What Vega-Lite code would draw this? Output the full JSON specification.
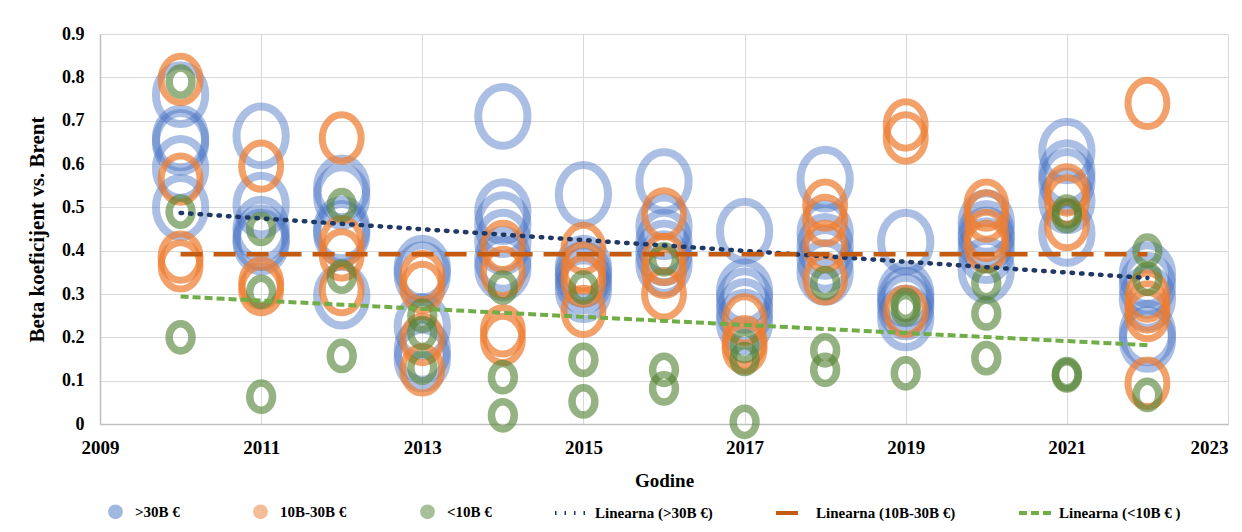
{
  "$schema": "https://vega.github.io/schema/vega-lite/v6.json",
  "width": 1128,
  "height": 390,
  "autosize": {"type": "none"},
  "padding": {"left": 100, "top": 34, "right": 14, "bottom": 108},
  "background": "white",
  "config": {
    "view": {"stroke": null},
    "font": "Liberation Serif",
    "axis": {
      "labelFont": "Liberation Serif",
      "titleFont": "Liberation Serif",
      "labelFontWeight": "bold",
      "titleFontWeight": "bold",
      "labelColor": "#000000",
      "titleColor": "#000000",
      "gridColor": "#D9D9D9",
      "gridWidth": 1,
      "domainColor": "#BFBFBF",
      "domainWidth": 1.5,
      "ticks": false,
      "labelOverlap": false
    },
    "legend": {
      "labelFont": "Liberation Serif",
      "labelFontSize": 15,
      "labelFontWeight": "bold",
      "labelColor": "#000000"
    }
  },
  "datasets": {
    "points": [
      {"year": 2010, "beta": 0.76, "series": ">30B €"},
      {"year": 2010, "beta": 0.66, "series": ">30B €"},
      {"year": 2010, "beta": 0.65, "series": ">30B €"},
      {"year": 2010, "beta": 0.59, "series": ">30B €"},
      {"year": 2010, "beta": 0.50, "series": ">30B €"},
      {"year": 2011, "beta": 0.665, "series": ">30B €"},
      {"year": 2011, "beta": 0.505, "series": ">30B €"},
      {"year": 2011, "beta": 0.45, "series": ">30B €"},
      {"year": 2011, "beta": 0.43, "series": ">30B €"},
      {"year": 2011, "beta": 0.42, "series": ">30B €"},
      {"year": 2012, "beta": 0.545, "series": ">30B €"},
      {"year": 2012, "beta": 0.525, "series": ">30B €"},
      {"year": 2012, "beta": 0.45, "series": ">30B €"},
      {"year": 2012, "beta": 0.44, "series": ">30B €"},
      {"year": 2012, "beta": 0.295, "series": ">30B €"},
      {"year": 2013, "beta": 0.36, "series": ">30B €"},
      {"year": 2013, "beta": 0.345, "series": ">30B €"},
      {"year": 2013, "beta": 0.225, "series": ">30B €"},
      {"year": 2013, "beta": 0.17, "series": ">30B €"},
      {"year": 2013, "beta": 0.15, "series": ">30B €"},
      {"year": 2014, "beta": 0.71, "series": ">30B €"},
      {"year": 2014, "beta": 0.49, "series": ">30B €"},
      {"year": 2014, "beta": 0.46, "series": ">30B €"},
      {"year": 2014, "beta": 0.42, "series": ">30B €"},
      {"year": 2014, "beta": 0.38, "series": ">30B €"},
      {"year": 2014, "beta": 0.36, "series": ">30B €"},
      {"year": 2015, "beta": 0.53, "series": ">30B €"},
      {"year": 2015, "beta": 0.36, "series": ">30B €"},
      {"year": 2015, "beta": 0.345, "series": ">30B €"},
      {"year": 2015, "beta": 0.33, "series": ">30B €"},
      {"year": 2015, "beta": 0.31, "series": ">30B €"},
      {"year": 2016, "beta": 0.56, "series": ">30B €"},
      {"year": 2016, "beta": 0.455, "series": ">30B €"},
      {"year": 2016, "beta": 0.42, "series": ">30B €"},
      {"year": 2016, "beta": 0.395, "series": ">30B €"},
      {"year": 2016, "beta": 0.37, "series": ">30B €"},
      {"year": 2017, "beta": 0.445, "series": ">30B €"},
      {"year": 2017, "beta": 0.305, "series": ">30B €"},
      {"year": 2017, "beta": 0.285, "series": ">30B €"},
      {"year": 2017, "beta": 0.26, "series": ">30B €"},
      {"year": 2017, "beta": 0.235, "series": ">30B €"},
      {"year": 2018, "beta": 0.565, "series": ">30B €"},
      {"year": 2018, "beta": 0.44, "series": ">30B €"},
      {"year": 2018, "beta": 0.41, "series": ">30B €"},
      {"year": 2018, "beta": 0.38, "series": ">30B €"},
      {"year": 2018, "beta": 0.35, "series": ">30B €"},
      {"year": 2019, "beta": 0.42, "series": ">30B €"},
      {"year": 2019, "beta": 0.30, "series": ">30B €"},
      {"year": 2019, "beta": 0.285, "series": ">30B €"},
      {"year": 2019, "beta": 0.27, "series": ">30B €"},
      {"year": 2019, "beta": 0.245, "series": ">30B €"},
      {"year": 2020, "beta": 0.465, "series": ">30B €"},
      {"year": 2020, "beta": 0.44, "series": ">30B €"},
      {"year": 2020, "beta": 0.425, "series": ">30B €"},
      {"year": 2020, "beta": 0.40, "series": ">30B €"},
      {"year": 2020, "beta": 0.355, "series": ">30B €"},
      {"year": 2021, "beta": 0.63, "series": ">30B €"},
      {"year": 2021, "beta": 0.58, "series": ">30B €"},
      {"year": 2021, "beta": 0.56, "series": ">30B €"},
      {"year": 2021, "beta": 0.515, "series": ">30B €"},
      {"year": 2021, "beta": 0.44, "series": ">30B €"},
      {"year": 2022, "beta": 0.345, "series": ">30B €"},
      {"year": 2022, "beta": 0.32, "series": ">30B €"},
      {"year": 2022, "beta": 0.29, "series": ">30B €"},
      {"year": 2022, "beta": 0.21, "series": ">30B €"},
      {"year": 2022, "beta": 0.195, "series": ">30B €"},
      {"year": 2010, "beta": 0.795, "series": "10B-30B €"},
      {"year": 2010, "beta": 0.565, "series": "10B-30B €"},
      {"year": 2010, "beta": 0.385, "series": "10B-30B €"},
      {"year": 2010, "beta": 0.365, "series": "10B-30B €"},
      {"year": 2011, "beta": 0.595, "series": "10B-30B €"},
      {"year": 2011, "beta": 0.325, "series": "10B-30B €"},
      {"year": 2011, "beta": 0.31, "series": "10B-30B €"},
      {"year": 2012, "beta": 0.66, "series": "10B-30B €"},
      {"year": 2012, "beta": 0.42, "series": "10B-30B €"},
      {"year": 2012, "beta": 0.39, "series": "10B-30B €"},
      {"year": 2012, "beta": 0.31, "series": "10B-30B €"},
      {"year": 2013, "beta": 0.34, "series": "10B-30B €"},
      {"year": 2013, "beta": 0.315, "series": "10B-30B €"},
      {"year": 2013, "beta": 0.195, "series": "10B-30B €"},
      {"year": 2013, "beta": 0.125, "series": "10B-30B €"},
      {"year": 2014, "beta": 0.41, "series": "10B-30B €"},
      {"year": 2014, "beta": 0.35, "series": "10B-30B €"},
      {"year": 2014, "beta": 0.215, "series": "10B-30B €"},
      {"year": 2014, "beta": 0.195, "series": "10B-30B €"},
      {"year": 2015, "beta": 0.405, "series": "10B-30B €"},
      {"year": 2015, "beta": 0.36, "series": "10B-30B €"},
      {"year": 2015, "beta": 0.33, "series": "10B-30B €"},
      {"year": 2015, "beta": 0.26, "series": "10B-30B €"},
      {"year": 2016, "beta": 0.485, "series": "10B-30B €"},
      {"year": 2016, "beta": 0.38, "series": "10B-30B €"},
      {"year": 2016, "beta": 0.35, "series": "10B-30B €"},
      {"year": 2016, "beta": 0.30, "series": "10B-30B €"},
      {"year": 2017, "beta": 0.24, "series": "10B-30B €"},
      {"year": 2017, "beta": 0.19, "series": "10B-30B €"},
      {"year": 2017, "beta": 0.175, "series": "10B-30B €"},
      {"year": 2018, "beta": 0.505, "series": "10B-30B €"},
      {"year": 2018, "beta": 0.47, "series": "10B-30B €"},
      {"year": 2018, "beta": 0.41, "series": "10B-30B €"},
      {"year": 2018, "beta": 0.335, "series": "10B-30B €"},
      {"year": 2019, "beta": 0.69, "series": "10B-30B €"},
      {"year": 2019, "beta": 0.66, "series": "10B-30B €"},
      {"year": 2019, "beta": 0.26, "series": "10B-30B €"},
      {"year": 2020, "beta": 0.505, "series": "10B-30B €"},
      {"year": 2020, "beta": 0.48, "series": "10B-30B €"},
      {"year": 2020, "beta": 0.435, "series": "10B-30B €"},
      {"year": 2020, "beta": 0.41, "series": "10B-30B €"},
      {"year": 2021, "beta": 0.54, "series": "10B-30B €"},
      {"year": 2021, "beta": 0.515, "series": "10B-30B €"},
      {"year": 2021, "beta": 0.46, "series": "10B-30B €"},
      {"year": 2022, "beta": 0.74, "series": "10B-30B €"},
      {"year": 2022, "beta": 0.295, "series": "10B-30B €"},
      {"year": 2022, "beta": 0.27, "series": "10B-30B €"},
      {"year": 2022, "beta": 0.25, "series": "10B-30B €"},
      {"year": 2022, "beta": 0.094, "series": "10B-30B €"},
      {"year": 2010, "beta": 0.79, "series": "<10B €"},
      {"year": 2010, "beta": 0.49, "series": "<10B €"},
      {"year": 2010, "beta": 0.20, "series": "<10B €"},
      {"year": 2011, "beta": 0.45, "series": "<10B €"},
      {"year": 2011, "beta": 0.305, "series": "<10B €"},
      {"year": 2011, "beta": 0.063, "series": "<10B €"},
      {"year": 2012, "beta": 0.505, "series": "<10B €"},
      {"year": 2012, "beta": 0.34, "series": "<10B €"},
      {"year": 2012, "beta": 0.157, "series": "<10B €"},
      {"year": 2013, "beta": 0.25, "series": "<10B €"},
      {"year": 2013, "beta": 0.21, "series": "<10B €"},
      {"year": 2013, "beta": 0.13, "series": "<10B €"},
      {"year": 2014, "beta": 0.315, "series": "<10B €"},
      {"year": 2014, "beta": 0.108, "series": "<10B €"},
      {"year": 2014, "beta": 0.02, "series": "<10B €"},
      {"year": 2015, "beta": 0.315, "series": "<10B €"},
      {"year": 2015, "beta": 0.148, "series": "<10B €"},
      {"year": 2015, "beta": 0.052, "series": "<10B €"},
      {"year": 2016, "beta": 0.38, "series": "<10B €"},
      {"year": 2016, "beta": 0.125, "series": "<10B €"},
      {"year": 2016, "beta": 0.082, "series": "<10B €"},
      {"year": 2017, "beta": 0.18, "series": "<10B €"},
      {"year": 2017, "beta": 0.15, "series": "<10B €"},
      {"year": 2017, "beta": 0.005, "series": "<10B €"},
      {"year": 2018, "beta": 0.325, "series": "<10B €"},
      {"year": 2018, "beta": 0.17, "series": "<10B €"},
      {"year": 2018, "beta": 0.125, "series": "<10B €"},
      {"year": 2019, "beta": 0.275, "series": "<10B €"},
      {"year": 2019, "beta": 0.265, "series": "<10B €"},
      {"year": 2019, "beta": 0.117, "series": "<10B €"},
      {"year": 2020, "beta": 0.325, "series": "<10B €"},
      {"year": 2020, "beta": 0.255, "series": "<10B €"},
      {"year": 2020, "beta": 0.152, "series": "<10B €"},
      {"year": 2021, "beta": 0.49, "series": "<10B €"},
      {"year": 2021, "beta": 0.48, "series": "<10B €"},
      {"year": 2021, "beta": 0.115, "series": "<10B €"},
      {"year": 2021, "beta": 0.112, "series": "<10B €"},
      {"year": 2022, "beta": 0.40, "series": "<10B €"},
      {"year": 2022, "beta": 0.335, "series": "<10B €"},
      {"year": 2022, "beta": 0.067, "series": "<10B €"}
    ],
    "trends": [
      {"year": 2010, "beta": 0.487, "series": "Linearna (>30B €)"},
      {"year": 2022, "beta": 0.337, "series": "Linearna (>30B €)"},
      {"year": 2010, "beta": 0.392, "series": "Linearna (10B-30B €)"},
      {"year": 2022, "beta": 0.392, "series": "Linearna (10B-30B €)"},
      {"year": 2010, "beta": 0.294, "series": "Linearna (<10B € )"},
      {"year": 2022, "beta": 0.182, "series": "Linearna (<10B € )"}
    ]
  },
  "encoding": {
    "x": {
      "field": "year",
      "type": "quantitative",
      "scale": {"domain": [2009, 2023], "nice": false, "zero": false},
      "axis": {
        "title": "Godine",
        "values": [2009, 2011, 2013, 2015, 2017, 2019, 2021, 2023],
        "format": "d",
        "grid": true,
        "labelFlush": false,
        "labelAlign": {"condition": {"test": "datum.value === 2023", "value": "right"}, "value": "center"},
        "labelFontSize": 19,
        "labelPadding": 14,
        "titleFontSize": 19,
        "titlePadding": 14
      }
    },
    "y": {
      "field": "beta",
      "type": "quantitative",
      "scale": {"domain": [0, 0.9], "nice": false},
      "axis": {
        "title": "Beta koeficijent vs. Brent",
        "values": [0, 0.1, 0.2, 0.3, 0.4, 0.5, 0.6, 0.7, 0.8, 0.9],
        "format": ".1~f",
        "grid": true,
        "labelFontSize": 18,
        "labelPadding": 16,
        "titleFontSize": 21,
        "titlePadding": 14
      }
    }
  },
  "layer": [
    {
      "encoding": {
        "color": {
          "field": "series",
          "type": "nominal",
          "scale": {
            "domain": [">30B €", "10B-30B €", "<10B €"],
            "range": ["#4472C4", "#ED7D31", "#548235"]
          },
          "legend": {
            "title": null,
            "orient": "none",
            "direction": "horizontal",
            "legendX": 8,
            "legendY": 470,
            "symbolType": "circle",
            "symbolSize": 60,
            "symbolStrokeWidth": 7,
            "symbolOpacity": 0.5,
            "labelOffset": 12,
            "columnPadding": 62
          }
        }
      },
      "layer": [
        {
          "data": {"name": "points"},
          "transform": [{"filter": "datum.series === '>30B €'"}],
          "mark": {"type": "point", "shape": "M0,-1C0.464,-1 0.84,-0.552 0.84,0C0.84,0.552 0.464,1 0,1C-0.464,1 -0.84,0.552 -0.84,0C-0.84,-0.552 -0.464,-1 0,-1Z", "filled": false, "size": 3445, "strokeWidth": 8, "opacity": 1, "strokeOpacity": 0.45}
        },
        {
          "data": {"name": "points"},
          "transform": [{"filter": "datum.series === '10B-30B €'"}],
          "mark": {"type": "point", "shape": "M0,-1C0.464,-1 0.84,-0.552 0.84,0C0.84,0.552 0.464,1 0,1C-0.464,1 -0.84,0.552 -0.84,0C-0.84,-0.552 -0.464,-1 0,-1Z", "filled": false, "size": 2144, "strokeWidth": 7, "opacity": 1, "strokeOpacity": 0.72}
        },
        {
          "data": {"name": "points"},
          "transform": [{"filter": "datum.series === '<10B €'"}],
          "mark": {"type": "point", "shape": "M0,-1C0.464,-1 0.84,-0.552 0.84,0C0.84,0.552 0.464,1 0,1C-0.464,1 -0.84,0.552 -0.84,0C-0.84,-0.552 -0.464,-1 0,-1Z", "filled": false, "size": 740, "strokeWidth": 7.5, "opacity": 1, "strokeOpacity": 0.62}
        }
      ]
    },
    {
      "encoding": {
        "stroke": {
          "field": "series",
          "type": "nominal",
          "scale": {
            "domain": ["Linearna (>30B €)", "Linearna (10B-30B €)", "Linearna (<10B € )"],
            "range": ["#203864", "#C55A11", "#70AD47"]
          },
          "legend": {
            "title": null,
            "orient": "none",
            "direction": "horizontal",
            "legendX": 453,
            "legendY": 461,
            "symbolType": "stroke",
            "symbolSize": 1024,
            "symbolStrokeWidth": 4,
            "labelOffset": 6,
            "columnPadding": 55
          }
        },
        "strokeDash": {
          "field": "series",
          "type": "nominal",
          "scale": {
            "domain": ["Linearna (>30B €)", "Linearna (10B-30B €)", "Linearna (<10B € )"],
            "range": [[1.5, 8], [22, 11], [8, 4]]
          },
          "legend": {
            "title": null,
            "orient": "none",
            "direction": "horizontal",
            "legendX": 453,
            "legendY": 461,
            "symbolType": "stroke",
            "symbolSize": 1024,
            "symbolStrokeWidth": 4,
            "labelOffset": 6,
            "columnPadding": 55
          }
        }
      },
      "layer": [
        {
          "data": {"name": "trends"},
          "transform": [{"filter": "datum.series === 'Linearna (>30B €)'"}],
          "mark": {"type": "line", "strokeWidth": 4.5, "strokeCap": "round"}
        },
        {
          "data": {"name": "trends"},
          "transform": [{"filter": "datum.series === 'Linearna (10B-30B €)'"}],
          "mark": {"type": "line", "strokeWidth": 4.5, "strokeCap": "butt"}
        },
        {
          "data": {"name": "trends"},
          "transform": [{"filter": "datum.series === 'Linearna (<10B € )'"}],
          "mark": {"type": "line", "strokeWidth": 4, "strokeCap": "butt"}
        }
      ]
    }
  ]
}
